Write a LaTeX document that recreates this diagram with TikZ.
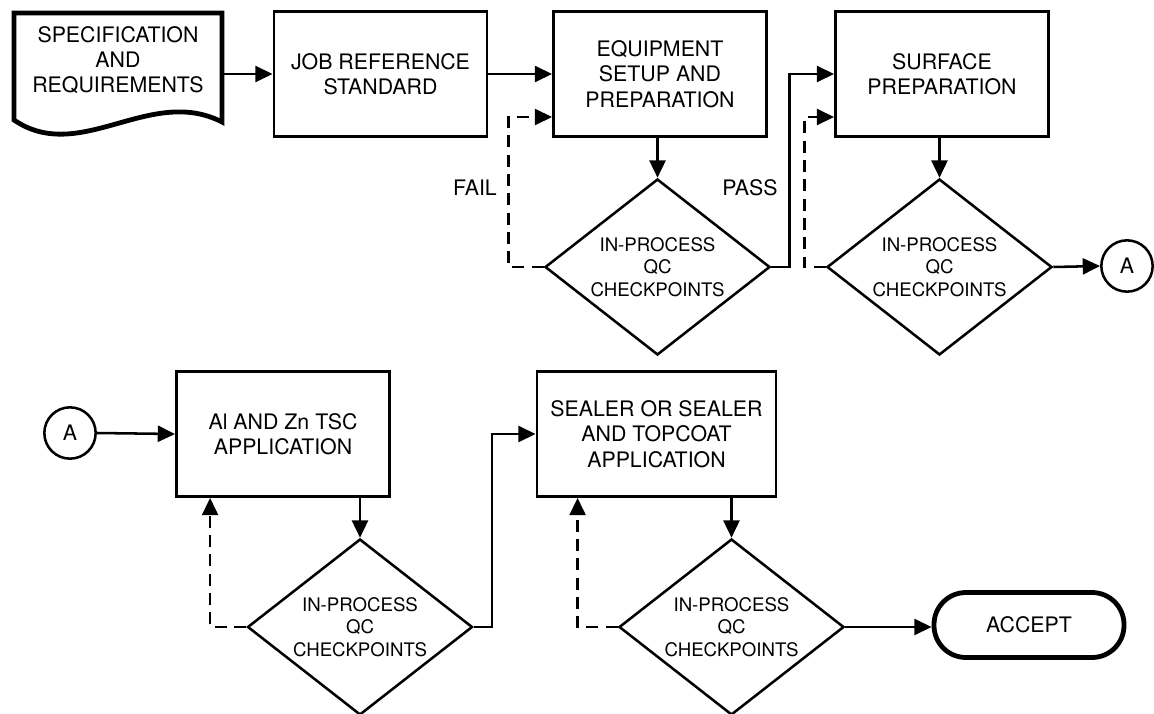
\documentclass[tikz,border=0pt]{standalone}
\usepackage{fontspec}
\setmainfont{TeX Gyre Heros}
\usetikzlibrary{arrows.meta,shapes.geometric,calc}

\begin{document}
\begin{tikzpicture}[x={(0.75pt,0)}, y={(0,-0.75pt)},
  boxtext/.style={font=\fontsize{16}{19}\selectfont, align=center},
  spectext/.style={boxtext, minimum width=156pt, inner sep=0pt},
  procbox/.style={boxtext, draw, line width=2.1pt, rectangle,
    minimum width=159.75pt, minimum height=93.75pt, inner sep=2pt},
  check/.style={diamond, draw, line width=1.9pt, shape aspect=1.28,
    minimum width=168.75pt, minimum height=132pt, inner sep=0pt,
    font=\fontsize{14}{17}\selectfont, align=center},
  connector/.style={circle, draw, line width=1.9pt, minimum size=38.5pt,
    inner sep=0pt, font=\fontsize{16}{19}\selectfont},
  terminal/.style={boxtext, draw, line width=3.6pt, rounded corners=24pt,
    minimum width=142.5pt, minimum height=48.75pt},
  flowarrow/.style={line width=1.9pt, -{Triangle[length=13pt,width=12pt]}},
  retryarrow/.style={flowarrow, dash pattern=on 9pt off 5.5pt},
  tag/.style={font=\fontsize{16}{19}\selectfont}
]
% page frame
\fill[white] (0,0) rectangle (1154,714);
\useasboundingbox (0,0) rectangle (1154,714);

% document symbol for the specification
\draw[line width=3.6pt, line join=miter]
  (14,13) -- (222,13) -- (222,122)
  .. controls (150,85) and (80,165) .. (14,120) -- cycle;
\node[spectext] (spec) at (118,60) {SPECIFICATION\\AND\\REQUIREMENTS};

% first row
\node[procbox] (job)   at (380.5,74) {JOB REFERENCE\\STANDARD};
\node[procbox] (equip) at (660,74)   {EQUIPMENT\\SETUP AND\\PREPARATION};
\node[procbox] (surf)  at (942,74)   {SURFACE\\PREPARATION};
\node[check]   (qc1)   at (657.5,267) {IN-PROCESS\\QC\\CHECKPOINTS};
\node[check]   (qc2)   at (939.5,267) {IN-PROCESS\\QC\\CHECKPOINTS};
\node[connector] (outA) at (1127,266) {A};
\node[tag] (fail) at (475,188) {FAIL};
\node[tag] (pass) at (750,188) {PASS};

% second row
\node[connector] (inA) at (70,433) {A};
\node[procbox] (tsc)  at (283,434) {Al AND Zn TSC\\APPLICATION};
\node[procbox, minimum width=179.25pt] (seal) at (656.5,434)
  {SEALER OR SEALER\\AND TOPCOAT\\APPLICATION};
\node[check] (qc3) at (360,627)   {IN-PROCESS\\QC\\CHECKPOINTS};
\node[check] (qc4) at (731.5,627) {IN-PROCESS\\QC\\CHECKPOINTS};
\node[terminal] (accept) at (1029,625) {ACCEPT};

% connectors, first row
\draw[flowarrow] (spec.east |- job.west) -- (job.west);
\draw[flowarrow] (job.east) -- (equip.west);
\draw[flowarrow] (qc1.north |- equip.south) -- (qc1.north);
\draw[retryarrow] (qc1.west) -- ++(-35,0) |- ($(equip.west)+(0,43)$);
\draw[flowarrow] (qc1.east) -- ++(18,0) |- (surf.west);
\draw[flowarrow] (qc2.north |- surf.south) -- (qc2.north);
\draw[retryarrow] (qc2.west) -- ++(-21,0) |- ($(surf.west)+(0,43)$);
\draw[flowarrow] (qc2.east) -- (outA.west);

% connectors, second row
\draw[flowarrow] (inA.east) -- (tsc.west);
\draw[flowarrow] (qc3.north |- tsc.south) -- (qc3.north);
\draw[retryarrow] (qc3.west) -| ($(tsc.south west)+(35,0)$);
\draw[flowarrow] (qc3.east) -- ++(18,0) |- (seal.west);
\draw[flowarrow] (qc4.north |- seal.south) -- (qc4.north);
\draw[retryarrow] (qc4.west) -| ($(seal.south west)+(42,0)$);
\draw[flowarrow] (qc4.east) -- (qc4.east -| accept.west);
\end{tikzpicture}
\end{document}
